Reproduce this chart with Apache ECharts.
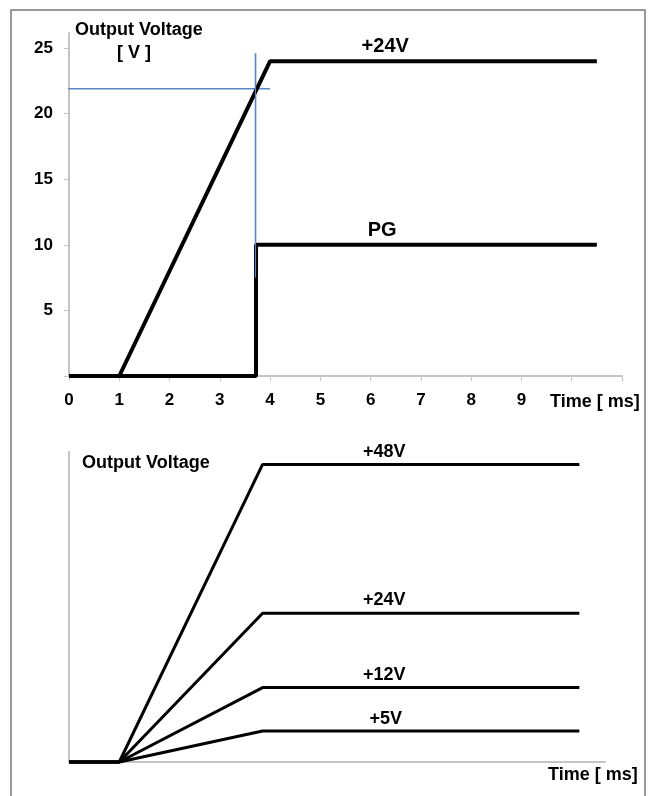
<!DOCTYPE html>
<html>
<head>
<meta charset="utf-8">
<script src="https://cdn.jsdelivr.net/npm/echarts@6/dist/echarts.min.js"></script>
<style>
html,body{margin:0;padding:0;background:#fff;}
#chart{width:649px;height:796px;}
</style>
</head>
<body>
<div id="chart"></div>
<script>
// ---- Top chart data (time in ms, voltage in V) ----
var topXTicks = [0,1,2,3,4,5,6,7,8,9,10,11];
var topXLabels = [0,1,2,3,4,5,6,7,8,9];
var topYTicks = [0,5,10,15,20,25];
var topYLabels = [5,10,15,20,25];
var v24Series = [[0,0],[1,0],[4,24],[10.5,24]];
var pgSeries = [[0,0],[3.72,0],[3.72,10],[10.5,10]];
var crossH = [[-0.2,21.9],[4.0,21.9]];
var crossV = [[3.71,24.6],[3.71,7.5]];
var topLabels = [[6.29,25.1,'+24V'],[6.23,11.1,'PG']];

// ---- Bottom chart data ----
var v48Bottom = [[0,0],[1,0],[3.85,48],[10.15,48]];
var v24Bottom = [[0,0],[1,0],[3.85,24],[10.15,24]];
var v12Bottom = [[0,0],[1,0],[3.85,12],[10.15,12]];
var v5Bottom  = [[0,0],[1,0],[3.85,5],[10.15,5]];
var bottomLabels = [[6.27,50.0,'+48V'],[6.27,26.1,'+24V'],[6.27,14.0,'+12V'],[6.3,6.9,'+5V']];

var FONT = '"Liberation Sans", Arial, sans-serif';
var axisGray = '#c4c4c4';
var blue = '#5b87c5';

function lineS(data, xi, w, color, z) {
  return {type:'line', xAxisIndex:xi, yAxisIndex:xi, data:data, symbol:'none',
    lineStyle:{color:color||'#000', width:w, opacity:1}, clip:false, z:z||3, silent:true, animation:false};
}
function labelS(arr, xi, size) {
  return {type:'scatter', xAxisIndex:xi, yAxisIndex:xi, symbolSize:0, silent:true, animation:false,
    itemStyle:{opacity:1, color:'#000'},
    data: arr.map(function(d){return {value:[d[0],d[1]], name:d[2]};}),
    label:{show:true, position:'inside', formatter:'{b}', color:'#000', opacity:1, fontWeight:'bold',
      textBorderWidth:0, fontFamily:FONT, fontSize:size}, z:5};
}

var chart = echarts.init(document.getElementById('chart'), null, {renderer:'canvas'});
chart.setOption({
  backgroundColor:'#fff',
  animation:false,
  grid:[
    {left:69, top:33, width:553, height:343},
    {left:69, top:452, width:536, height:310}
  ],
  xAxis:[
    {type:'value', gridIndex:0, min:0, max:11, interval:1,
      axisLine:{show:true, lineStyle:{color:axisGray, width:2}},
      axisTick:{show:true, length:5, lineStyle:{color:axisGray, width:1}, customValues:topXTicks},
      axisLabel:{show:true, customValues:topXLabels, margin:16, color:'#000', fontWeight:'bold', fontSize:17, fontFamily:FONT},
      splitLine:{show:false}},
    {type:'value', gridIndex:1, min:0, max:10.66,
      axisLine:{show:true, lineStyle:{color:axisGray, width:2}},
      axisTick:{show:false}, axisLabel:{show:false}, splitLine:{show:false}}
  ],
  yAxis:[
    {type:'value', gridIndex:0, min:0, max:26.15, interval:5,
      axisLine:{show:true, lineStyle:{color:axisGray, width:2}},
      axisTick:{show:true, length:5, lineStyle:{color:axisGray, width:1}, customValues:topYTicks},
      axisLabel:{show:true, customValues:topYLabels, margin:16, color:'#000', fontWeight:'bold', fontSize:17, fontFamily:FONT},
      splitLine:{show:false}},
    {type:'value', gridIndex:1, min:0, max:50,
      axisLine:{show:true, lineStyle:{color:axisGray, width:2}},
      axisTick:{show:false}, axisLabel:{show:false}, splitLine:{show:false}}
  ],
  graphic:[
    {type:'rect', shape:{x:11, y:10, width:634, height:800}, style:{fill:'none', stroke:'#9a9a9a', lineWidth:2}, silent:true, z:-1},
    {type:'text', left:75, top:21, style:{text:'Output Voltage', font:'bold 18px '+FONT, fill:'#000'}},
    {type:'text', left:117, top:44, style:{text:'[ V ]', font:'bold 18px '+FONT, fill:'#000'}},
    {type:'text', left:550, top:393, style:{text:'Time [ ms]', font:'bold 18px '+FONT, fill:'#000'}},
    {type:'text', left:82, top:454, style:{text:'Output Voltage', font:'bold 18px '+FONT, fill:'#000'}},
    {type:'text', left:548, top:766, style:{text:'Time [ ms]', font:'bold 18px '+FONT, fill:'#000'}}
  ],
  series:[
    lineS(crossH, 0, 1.5, blue, 2),
    lineS(crossV, 0, 1.5, blue, 2),
    lineS(v24Series, 0, 4, '#000', 3),
    lineS(pgSeries, 0, 4, '#000', 3),
    lineS(crossV.slice(), 0, 1.2, blue, 4),
    labelS(topLabels, 0, 20),
    lineS(v48Bottom, 1, 3, '#000', 3),
    lineS(v24Bottom, 1, 3, '#000', 3),
    lineS(v12Bottom, 1, 3, '#000', 3),
    lineS(v5Bottom, 1, 3, '#000', 3),
    labelS(bottomLabels, 1, 18)
  ]
});
</script>
</body>
</html>
